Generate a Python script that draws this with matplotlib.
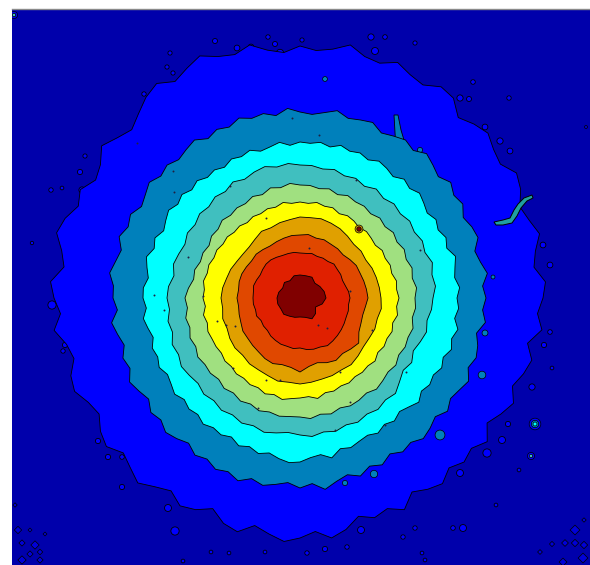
import numpy as np
import matplotlib
matplotlib.use("Agg")
import matplotlib.pyplot as plt

# contour radii, pixels from the peak, counter clockwise from east
ring1 = [243,246,236,240,248,242,238,246,250,241,244,250,246,240,252,254,246,249,255,248,250,258,251,248,
         252,246,250,258,252,255,262,256,250,258,253,245,238,243,250,240,236,245,240,248,252,243,238,250,
         246,240,248,238,234,242,244,236,232,240,244,235,240,246,238,232,240,236,228,238,242,232,238,244,
         240,234,242,236,226,232,228,236,224,230,234,226,232,228,236,225,232,238,230,236,240,232,244,238]
ring2 = [186,183,189,184,181,188,186,182,188,185,190,184,188,192,186,190,187,184,190,188,186,191,187,184,
         186,190,184,188,186,190,185,188,184,190,187,184,188,185,190,186,183,189,186,191,185,188,192,187,
         187,183,190,186,182,187,184,190,186,182,188,185,190,187,183,189,186,191,188,193,187,191,188,185,
         190,186,193,187,183,188,182,186,180,185,182,187,184,180,186,181,184,188,182,186,184,180,187,183]
ring3 = [157,160,156,158,161,155,158,154,157,153,156,159,155,158,153,156,158,154,157,155,158,154,157,155,
         156,153,157,154,152,156,153,155,151,154,152,156,153,157,154,158,155,152,157,154,159,156,153,157,
         157,154,158,155,152,156,154,157,153,155,158,154,157,155,159,156,158,155,160,157,161,158,162,165,
         164,160,158,163,156,158,155,153,156,152,155,151,154,158,153,156,154,158,155,160,157,161,156,159]
ring4 = [133,136,134,137,133,135,132,134,131,133,130,133,129,132,130,133,131,133,
         133,135,133,136,134,131,134,130,132,129,131,128,130,127,129,131,128,132,
         133,131,134,132,136,134,137,135,133,136,134,137,135,138,136,139,137,135,
         137,139,136,138,135,137,134,136,133,135,130,126,129,125,128,131,129,132]
ring5 = [115,117,114,116,113,115,112,114,111,113,110,112,111,113,110,113,111,113,
         113,115,112,114,110,112,109,110,108,110,107,108,105,107,106,109,108,112,
         115,113,116,114,117,115,118,116,117,115,118,116,119,117,120,118,120,119,
         119,121,118,120,117,119,118,116,119,117,115,117,114,116,115,117,114,116]
ring6 = [99,97,98,95,96,94,95,92,93,94,92,94,95,93,96,95,97,95,
         96,95,97,94,95,93,94,92,94,93,95,94,96,95,97,96,98,96,
         97,95,98,96,98,97,97,96,98,97,99,98,100,99,102,100,103,101,
         100,99,102,98,99,97,98,96,97,96,98,95,97,96,98,96,99,97]
ring7 = [81,80,79,78,76,77,76,78,80,81,82,81,
         81,79,78,76,77,74,72,72,73,75,76,78,
         79,78,80,79,81,82,81,83,83,84,86,85,
         86,85,84,84,83,84,82,80,80,81,80,82]
ring8 = [68,67,66,65,65,63,61,62,62,63,62,64,
         63,63,62,61,60,61,62,61,62,63,63,62,
         63,62,63,64,66,66,67,68,70,71,69,70,
         74,69,67,70,72,70,72,74,68,66,65,66]
ring9 = [50,49,47,46,47,47,48,46,46,45,46,45,
         45,46,46,46,47,48,48,47,46,47,48,47,
         47,47,46,47,45,46,46,48,49,50,50,51,
         50,52,53,53,55,54,53,52,51,50,50,49]
ring10 = [26,25,23,21,24,23,23,23,20,22,20,22,
          23,23,22,23,21,20,19,20,24,22,18,23]
rings = [ring1,ring2,ring3,ring4,ring5,ring6,ring7,ring8,ring9,ring10]
peak_x = 300
peak_y = 298

background = '#0000ab'
colors = ['#0000ff','#0080bb','#00ffff','#40bfbf','#a0e080',
          '#ffff00','#e0a000','#e04800','#e02000','#800000']

# blue islands outside the first contour
island_x = [268,215,237,251,275,280,170,167,173,144,85,112,80,62,51,32,89,82,
            302,371,385,375,415,325,473,509,460,469,586,485,462,500,510,487,543,550,
            52,65,63,98,122,108,122,168,175,211,183,229,265,
            550,544,552,532,502,508,487,519,496,460,425,463,453,415,403,361,347,325,307,422,425]
island_y = [37,41,48,47,44,53,53,67,73,94,156,160,172,188,190,243,202,190,
            40,37,37,51,43,79,82,98,98,99,127,127,125,141,151,159,245,265,
            305,345,351,441,487,457,457,508,531,552,561,553,552,
            332,345,368,387,440,424,453,470,505,473,474,528,528,528,537,530,547,549,553,553,560]
island_s = [10,13,17,17,13,28,9,9,9,10,9,20,14,7,10,6,13,20,
            9,20,11,25,9,20,11,10,20,13,4,17,20,20,17,20,17,17,
            35,14,10,14,14,14,11,25,35,7,7,7,7,
            11,14,7,20,25,14,35,7,7,25,7,25,11,10,10,25,10,14,10,7,7]

# steel blue blobs just outside the second contour
blob_x = [482,440,374,345,485,420,325,493]
blob_y = [375,435,474,483,333,150,79,277]
blob_s = [30,50,28,14,18,14,12,8]

# navy specks in the two bottom corners
speck_x = [18,35,22,30,40,22,40,575,565,552,575,584,583,563,540,584,15,30,45]
speck_y = [530,545,543,554,552,560,560,530,543,544,543,545,558,562,552,520,505,530,534]
speck_s = [14,18,10,10,8,18,10,25,12,7,14,14,25,16,6,5,5,4,4]

# dark pin holes inside the rings
hole_x = [188,292,173,230,266,174,137,154,164,319,356,309,350,327,280,217,235,203,
          226,233,335,350,406,385,420,372,340,318,266,258]
hole_y = [257,118,171,186,218,192,143,295,310,135,180,248,291,328,380,321,326,296,
          325,368,430,402,372,425,250,330,372,325,380,408]

# the odd features, hot spots and the bent streak
streak_x = [494,503,510,514,518,524,532,533,527,521,517,512,503,496]
streak_y = [222,220,218,210,204,198,195,198,201,208,216,223,225,225]
spike_x = [396,394,398,401,404,404]
spike_y = [150,115,115,130,140,150]
spot_x = [359,359,535,535,535,531,531,14,14]
spot_y = [229,229,424,424,424,456,456,15,15]
spot_s = [32,10,70,28,8,26,6,26,6]
spot_c = ['#e0a000','#800000','#0000ff','#0080bb','#00ffff','#0000ff','#40bfbf','#0000ff','#40bfbf']


def main():

    fig=plt.figure(figsize=(5.9,5.65),dpi=100)
    ax=fig.add_axes([12/590,0,578/590,556/565])
    ax.set_facecolor(background)
    ax.set_xlim(12,590)
    ax.set_ylim(565,9)
    ax.set_xticks([])
    ax.set_yticks([])
    for side in ['left','right','bottom']:
        ax.spines[side].set_visible(False)
    ax.spines['top'].set_color('#8a8a8a')
    ax.spines['top'].set_linewidth(1)

    ax.scatter(island_x,island_y,s=island_s,c=colors[0],marker='o',
               edgecolors='k',linewidths=0.6,zorder=1)
    ax.scatter(speck_x,speck_y,s=speck_s,c='#0000d8',marker='D',
               edgecolors='k',linewidths=0.5,zorder=1)

    for i in range(len(rings)):
        r=np.array(rings[i],dtype=float)
        a=np.linspace(0,2*np.pi,len(r),endpoint=False)
        x=peak_x+r*np.cos(a)
        y=peak_y-r*np.sin(a)
        ax.fill(x,y,facecolor=colors[i],edgecolor='k',linewidth=0.6,zorder=2+i)

    ax.fill(spike_x,spike_y,facecolor=colors[1],edgecolor='k',linewidth=0.6,zorder=2.5)
    ax.scatter(blob_x,blob_y,s=blob_s,c=colors[1],edgecolors='k',linewidths=0.5,zorder=2.5)
    ax.fill(streak_x,streak_y,facecolor='#20a0a0',edgecolor='k',linewidth=0.7,zorder=3)
    ax.scatter(hole_x,hole_y,s=2,c='#202040',marker='o',linewidths=0,zorder=20)
    ax.scatter(spot_x,spot_y,s=spot_s,c=spot_c,edgecolors='k',linewidths=0.5,zorder=21)

    fig.savefig("out.png",dpi=100,facecolor='white')


if __name__=="__main__":
    main()
